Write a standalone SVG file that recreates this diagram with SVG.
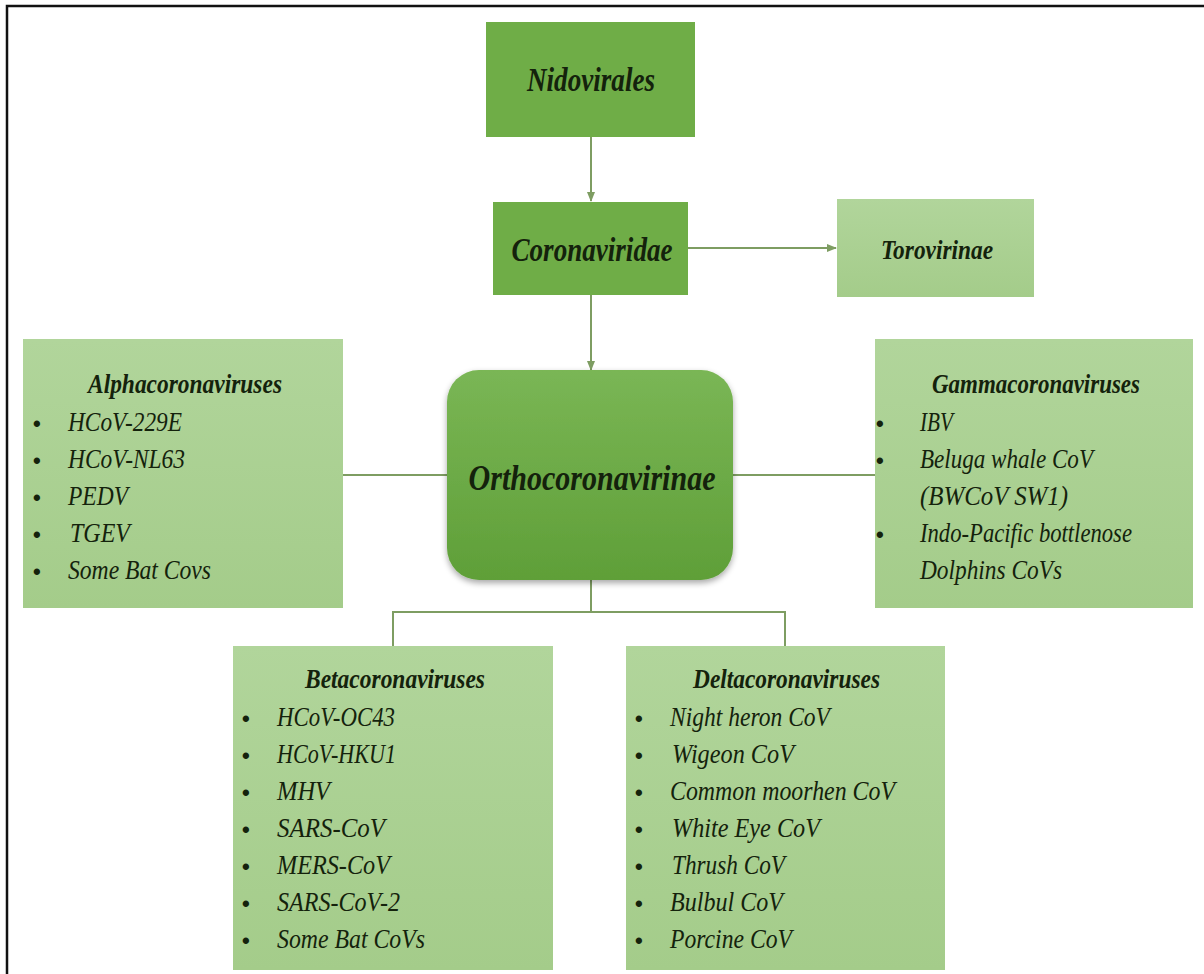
<svg xmlns="http://www.w3.org/2000/svg" width="1204" height="974" viewBox="0 0 1204 974">
<defs>
<linearGradient id="gLight" x1="0" y1="0" x2="0" y2="1">
<stop offset="0" stop-color="#b1d59b"/>
<stop offset="1" stop-color="#a4cc8a"/>
</linearGradient>
<linearGradient id="gDark" x1="0" y1="0" x2="0" y2="1">
<stop offset="0" stop-color="#7ab655"/>
<stop offset="1" stop-color="#5f9f38"/>
</linearGradient>
<filter id="shadow" x="-10%" y="-10%" width="120%" height="125%">
<feGaussianBlur in="SourceAlpha" stdDeviation="3"/>
<feOffset dx="0" dy="3" result="b"/>
<feComponentTransfer><feFuncA type="linear" slope="0.35"/></feComponentTransfer>
<feMerge><feMergeNode/><feMergeNode in="SourceGraphic"/></feMerge>
</filter>
<marker id="arr" viewBox="0 0 10 10" refX="9" refY="5" markerWidth="5" markerHeight="5" orient="auto">
<path d="M0,1 L10,5 L0,9 z" fill="#7e9d62"/>
</marker>
</defs>
<style>
.dark{fill:#6fad47}
.light{fill:url(#gLight)}
.conn{stroke:#7e9d62;stroke-width:2;fill:none}
.t{font-family:"Liberation Serif","Times New Roman",serif;font-style:italic;fill:#14220c}
.h{font-weight:bold;font-size:27px}
.main{font-weight:bold;font-size:33px;text-anchor:middle}
.i{font-size:28px}
.b{font-family:"Liberation Sans",Arial,sans-serif;font-size:22px;font-weight:bold;fill:#14220c}
</style>
<rect x="0" y="0" width="1204" height="974" fill="#ffffff"/>
<path d="M7,974 L7,6 L1204,6" fill="none" stroke="#111" stroke-width="2.5"/>

<g id="connectors">
<line class="conn" x1="591" y1="137" x2="591" y2="201" marker-end="url(#arr)"/>
<line class="conn" x1="688" y1="248" x2="836" y2="248" marker-end="url(#arr)"/>
<line class="conn" x1="591" y1="295" x2="591" y2="370" marker-end="url(#arr)"/>
<line class="conn" x1="343" y1="475" x2="447" y2="475"/>
<line class="conn" x1="733" y1="475" x2="875" y2="475"/>
<polyline class="conn" points="591,580 591,612"/>
<polyline class="conn" points="393,646 393,612 785,612 785,646"/>
</g>

<g id="nidovirales">
<rect class="dark" x="486" y="22" width="209" height="115"/>
<text class="t main" x="591" y="91" textLength="128" lengthAdjust="spacingAndGlyphs">Nidovirales</text>
</g>

<g id="coronaviridae">
<rect class="dark" x="493" y="202" width="195" height="93"/>
<text class="t main" x="592" y="261" textLength="161" lengthAdjust="spacingAndGlyphs">Coronaviridae</text>
</g>

<g id="torovirinae">
<rect class="light" x="837" y="199" width="197" height="98"/>
<text class="t main" x="937" y="259" style="font-size:28px" textLength="112" lengthAdjust="spacingAndGlyphs">Torovirinae</text>
</g>

<g id="orthocoronavirinae">
<rect x="447" y="370" width="286" height="210" rx="32" ry="32" fill="url(#gDark)" filter="url(#shadow)"/>
<text class="t main" x="592" y="490" style="font-size:36px" textLength="247" lengthAdjust="spacingAndGlyphs">Orthocoronavirinae</text>
</g>

<g id="alphacoronaviruses">
<rect class="light" x="23" y="339" width="320" height="269"/>
<text class="t h" x="88" y="393" textLength="194" lengthAdjust="spacingAndGlyphs">Alphacoronaviruses</text>
<g class="b"><text x="33" y="431">•</text><text x="33" y="468">•</text><text x="33" y="505">•</text><text x="33" y="542">•</text><text x="33" y="579">•</text></g>
<text class="t i" x="68" y="431" textLength="114" lengthAdjust="spacingAndGlyphs">HCoV-229E</text>
<text class="t i" x="68" y="468" textLength="117" lengthAdjust="spacingAndGlyphs">HCoV-NL63</text>
<text class="t i" x="68" y="505" textLength="60" lengthAdjust="spacingAndGlyphs">PEDV</text>
<text class="t i" x="70" y="542" textLength="60" lengthAdjust="spacingAndGlyphs">TGEV</text>
<text class="t i" x="68" y="579" textLength="143" lengthAdjust="spacingAndGlyphs">Some Bat Covs</text>
</g>

<g id="gammacoronaviruses">
<rect class="light" x="875" y="339" width="318" height="269"/>
<text class="t h" x="932" y="393" textLength="208" lengthAdjust="spacingAndGlyphs">Gammacoronaviruses</text>
<g class="b"><text x="876" y="431">•</text><text x="876" y="468">•</text><text x="876" y="542">•</text></g>
<text class="t i" x="920" y="431" textLength="33" lengthAdjust="spacingAndGlyphs">IBV</text>
<text class="t i" x="920" y="468" textLength="173" lengthAdjust="spacingAndGlyphs">Beluga whale CoV</text>
<text class="t i" x="920" y="505" textLength="148" lengthAdjust="spacingAndGlyphs">(BWCoV SW1)</text>
<text class="t i" x="920" y="542" textLength="212" lengthAdjust="spacingAndGlyphs">Indo-Pacific bottlenose</text>
<text class="t i" x="920" y="579" textLength="142" lengthAdjust="spacingAndGlyphs">Dolphins CoVs</text>
</g>

<g id="betacoronaviruses">
<rect class="light" x="233" y="646" width="320" height="324"/>
<text class="t h" x="305" y="688" textLength="180" lengthAdjust="spacingAndGlyphs">Betacoronaviruses</text>
<g class="b"><text x="242" y="726">•</text><text x="242" y="763">•</text><text x="242" y="800">•</text><text x="242" y="837">•</text><text x="242" y="874">•</text><text x="242" y="911">•</text><text x="242" y="948">•</text></g>
<text class="t i" x="277" y="726" textLength="118" lengthAdjust="spacingAndGlyphs">HCoV-OC43</text>
<text class="t i" x="277" y="763" textLength="119" lengthAdjust="spacingAndGlyphs">HCoV-HKU1</text>
<text class="t i" x="277" y="800" textLength="53" lengthAdjust="spacingAndGlyphs">MHV</text>
<text class="t i" x="277" y="837" textLength="108" lengthAdjust="spacingAndGlyphs">SARS-CoV</text>
<text class="t i" x="277" y="874" textLength="113" lengthAdjust="spacingAndGlyphs">MERS-CoV</text>
<text class="t i" x="277" y="911" textLength="123" lengthAdjust="spacingAndGlyphs">SARS-CoV-2</text>
<text class="t i" x="277" y="948" textLength="148" lengthAdjust="spacingAndGlyphs">Some Bat CoVs</text>
</g>

<g id="deltacoronaviruses">
<rect class="light" x="626" y="646" width="319" height="324"/>
<text class="t h" x="693" y="688" textLength="187" lengthAdjust="spacingAndGlyphs">Deltacoronaviruses</text>
<g class="b"><text x="635" y="726">•</text><text x="635" y="763">•</text><text x="635" y="800">•</text><text x="635" y="837">•</text><text x="635" y="874">•</text><text x="635" y="911">•</text><text x="635" y="948">•</text></g>
<text class="t i" x="670" y="726" textLength="160" lengthAdjust="spacingAndGlyphs">Night heron CoV</text>
<text class="t i" x="672" y="763" textLength="122" lengthAdjust="spacingAndGlyphs">Wigeon CoV</text>
<text class="t i" x="670" y="800" textLength="225" lengthAdjust="spacingAndGlyphs">Common moorhen CoV</text>
<text class="t i" x="672" y="837" textLength="148" lengthAdjust="spacingAndGlyphs">White Eye CoV</text>
<text class="t i" x="672" y="874" textLength="113" lengthAdjust="spacingAndGlyphs">Thrush CoV</text>
<text class="t i" x="670" y="911" textLength="113" lengthAdjust="spacingAndGlyphs">Bulbul CoV</text>
<text class="t i" x="670" y="948" textLength="122" lengthAdjust="spacingAndGlyphs">Porcine CoV</text>
</g>
</svg>
